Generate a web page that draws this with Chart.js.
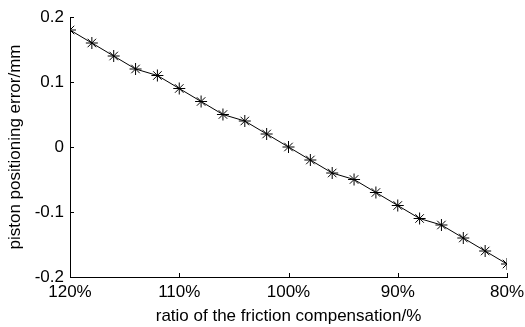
<!DOCTYPE html>
<html>
<head>
<meta charset="utf-8">
<script src="https://cdn.jsdelivr.net/npm/chart.js@4"></script>
<style>
  html, body { margin: 0; padding: 0; background: #fff; }
  #wrap { width: 525px; height: 327px; }
</style>
</head>
<body>
<div id="wrap"><canvas id="myChart" width="525" height="327"></canvas></div>
<script>
var ratio = [120, 118, 116, 114, 112, 110, 108, 106, 104, 102, 100, 98, 96, 94, 92, 90, 88, 86, 84, 82, 80];
var positionError = [0.18, 0.16, 0.14, 0.12, 0.11, 0.09, 0.07, 0.05, 0.04, 0.02, 0.0, -0.02, -0.04, -0.05, -0.07, -0.09, -0.11, -0.12, -0.14, -0.16, -0.18];
var xTicks = [120, 110, 100, 90, 80];
var yTicks = [0.2, 0.1, 0, -0.1, -0.2];

var points = ratio.map(function (r, i) {
  return { x: r, y: positionError[i] };
});

// inward tick marks like matlab
var innerTicks = {
  id: "innerTicks",
  afterDraw: function (c) {
    var ctx = c.ctx;
    var area = c.chartArea;
    var xs = c.scales.x;
    var ys = c.scales.y;
    ctx.save();
    ctx.strokeStyle = "#000";
    ctx.lineWidth = 1;
    ctx.beginPath();
    xTicks.forEach(function (v) {
      var px = Math.round(xs.getPixelForValue(v)) + 0.5;
      ctx.moveTo(px, area.bottom);
      ctx.lineTo(px, area.bottom - 4);
    });
    yTicks.forEach(function (v) {
      var py = Math.round(ys.getPixelForValue(v)) + 0.5;
      ctx.moveTo(area.left, py);
      ctx.lineTo(area.left + 4, py);
    });
    ctx.stroke();
    ctx.restore();
  }
};

var ctx = document.getElementById("myChart").getContext("2d");
var chart = new Chart(ctx, {
  type: "line",
  data: {
    datasets: [
      {
        data: points,
        borderColor: "#000",
        borderWidth: 1,
        pointStyle: "star",
        pointRadius: 6,
        pointBorderColor: "#000",
        pointBorderWidth: 1,
        pointBackgroundColor: "#000",
        tension: 0,
        fill: false
      }
    ]
  },
  options: {
    responsive: false,
    animation: false,
    layout: { padding: { left: 0, right: 18, top: 17, bottom: 0 } },
    plugins: { legend: { display: false }, tooltip: { enabled: false } },
    scales: {
      x: {
        type: "linear",
        reverse: true,
        min: 80,
        max: 120,
        afterBuildTicks: function (s) {
          s.ticks = xTicks.map(function (v) { return { value: v }; });
        },
        afterFit: function (s) {
          s.height = 50;
          s.paddingLeft = 0;
          s.paddingRight = 0;
        },
        grid: { display: false, drawTicks: false },
        border: { display: true, color: "#000", width: 1 },
        ticks: {
          color: "#000",
          padding: 5,
          maxRotation: 0,
          font: { family: "Liberation Sans", size: 17 },
          callback: function (v) { return v + "%"; }
        },
        title: {
          display: true,
          text: "ratio of the friction compensation/%",
          color: "#000",
          padding: { top: 0, bottom: 0 },
          font: { family: "Liberation Sans", size: 17 }
        }
      },
      y: {
        min: -0.2,
        max: 0.2,
        afterBuildTicks: function (s) {
          s.ticks = yTicks.map(function (v) { return { value: v }; });
        },
        afterFit: function (s) { s.width = 70; },
        grid: { display: false, drawTicks: false },
        border: { display: true, color: "#000", width: 1 },
        ticks: {
          color: "#000",
          padding: 6,
          font: { family: "Liberation Sans", size: 17 },
          callback: function (v) { return String(Math.round(v * 10) / 10); }
        },
        title: {
          display: true,
          text: "piston positioning error/mm",
          color: "#000",
          padding: { top: 5, bottom: 0 },
          font: { family: "Liberation Sans", size: 17 }
        }
      }
    }
  },
  plugins: [innerTicks]
});
</script>
</body>
</html>
